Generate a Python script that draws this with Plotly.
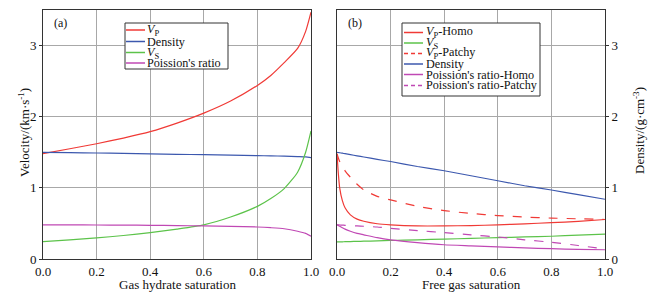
import plotly.graph_objects as go

# ---------------- data ----------------
# panel (a): gas hydrate saturation
sh = [0.0, 0.1, 0.2, 0.3, 0.4, 0.5, 0.6, 0.7, 0.8, 0.85, 0.9, 0.95, 0.98, 1.0]
vp_a = [1.48, 1.55, 1.62, 1.70, 1.79, 1.91, 2.05, 2.22, 2.44, 2.58, 2.76, 2.96, 3.20, 3.47]
dens_a = [1.50, 1.495, 1.49, 1.485, 1.478, 1.472, 1.466, 1.46, 1.453, 1.45, 1.446, 1.44, 1.436, 1.425]
vs_a = [0.245, 0.27, 0.296, 0.33, 0.37, 0.42, 0.48, 0.59, 0.74, 0.85, 0.99, 1.22, 1.50, 1.80]
pr_a = [0.48, 0.48, 0.478, 0.476, 0.474, 0.47, 0.465, 0.458, 0.45, 0.44, 0.425, 0.39, 0.36, 0.32]

# panel (b): free gas saturation
sg = [0.0, 0.005, 0.01, 0.02, 0.03, 0.05, 0.075, 0.1, 0.15, 0.2, 0.3, 0.4, 0.5, 0.6, 0.7, 0.8, 0.9, 1.0]
vp_homo = [1.48, 1.20, 1.00, 0.82, 0.72, 0.62, 0.56, 0.53, 0.495, 0.48, 0.465, 0.465, 0.47, 0.48, 0.495, 0.51, 0.53, 0.555]
vs_b = [0.24, 0.24, 0.241, 0.242, 0.243, 0.245, 0.248, 0.25, 0.255, 0.26, 0.27, 0.28, 0.29, 0.30, 0.31, 0.32, 0.335, 0.35]
vp_patchy = [1.48, 1.42, 1.37, 1.30, 1.24, 1.15, 1.05, 0.97, 0.88, 0.83, 0.74, 0.68, 0.64, 0.61, 0.59, 0.575, 0.565, 0.555]
dens_b = [1.50, 1.497, 1.493, 1.487, 1.48, 1.467, 1.45, 1.434, 1.40, 1.37, 1.30, 1.24, 1.17, 1.10, 1.03, 0.97, 0.905, 0.84]
pr_homo = [0.48, 0.47, 0.46, 0.44, 0.42, 0.39, 0.36, 0.34, 0.30, 0.27, 0.23, 0.20, 0.185, 0.17, 0.155, 0.145, 0.135, 0.13]
pr_patchy = [0.48, 0.479, 0.478, 0.476, 0.474, 0.47, 0.465, 0.46, 0.45, 0.43, 0.40, 0.37, 0.34, 0.31, 0.27, 0.235, 0.19, 0.14]

xticks = [0.0, 0.2, 0.4, 0.6, 0.8, 1.0]
xtick_text = ["0.0", "0.2", "0.4", "0.6", "0.8", "1.0"]
yticks = [0, 1, 2, 3]

x_title_a = "Gas hydrate saturation"
x_title_b = "Free gas saturation"
y_title_left = "Velocity/(km·s<sup>-1</sup>)"
y_title_right = "Density/(g·cm<sup>-3</sup>)"

RED = "#f03a36"
BLUE = "#3c58ae"
GREEN = "#5cc34a"
MAG = "#c048b4"

labels_a = ["<i>V</i><sub>P</sub>", "Density", "<i>V</i><sub>S</sub>", "Poission's ratio"]
labels_b = ["<i>V</i><sub>P</sub>-Homo", "<i>V</i><sub>S</sub>", "<i>V</i><sub>P</sub>-Patchy",
            "Density", "Poission's ratio-Homo", "Poission's ratio-Patchy"]

FONT = "Liberation Serif"
W, H = 648, 296
LEG_FS = 12.2
TXT = "#111111"

fig = go.Figure()

series_a = [(vp_a, RED, "solid"), (dens_a, BLUE, "solid"), (vs_a, GREEN, "solid"), (pr_a, MAG, "solid")]
for (ys, c, d), name in zip(series_a, labels_a):
    fig.add_trace(go.Scatter(x=sh, y=ys, mode="lines", name=name, showlegend=False,
                             line=dict(color=c, width=1.2, dash=d, shape="spline", smoothing=0.6),
                             xaxis="x", yaxis="y"))

series_b = [(vp_homo, RED, "solid"), (vs_b, GREEN, "solid"), (vp_patchy, RED, "dash"),
            (dens_b, BLUE, "solid"), (pr_homo, MAG, "solid"), (pr_patchy, MAG, "dash")]
for (ys, c, d), name in zip(series_b, labels_b):
    fig.add_trace(go.Scatter(x=sg, y=ys, mode="lines", name=name, showlegend=False,
                             line=dict(color=c, width=1.2, dash=d, shape="spline", smoothing=0.5),
                             xaxis="x2", yaxis="y2"))

def px(x):
    return x / W

def py(y):
    return 1 - y / H

shapes = []
annotations = []

def legend_box(x0, y0, x1, y1, centers, entries, lx0, lx1, tx):
    shapes.append(dict(type="rect", xref="paper", yref="paper", x0=px(x0), x1=px(x1),
                       y0=py(y1), y1=py(y0), line=dict(color="#333333", width=1),
                       fillcolor="white", layer="above"))
    for yc, (name, c, d) in zip(centers, entries):
        shapes.append(dict(type="line", xref="paper", yref="paper", x0=px(lx0), x1=px(lx1),
                           y0=py(yc), y1=py(yc), line=dict(color=c, width=1.5, dash=d),
                           layer="above"))
        annotations.append(dict(text=name, xref="paper", yref="paper", x=px(tx), y=py(yc),
                                xanchor="left", yanchor="middle", showarrow=False, borderpad=0,
                                font=dict(family=FONT, size=LEG_FS, color=TXT)))

legend_box(125, 23, 228, 69, [30, 41.5, 52.5, 63],
           [(labels_a[i], series_a[i][1], series_a[i][2]) for i in range(4)],
           126, 145, 146)
legend_box(402, 23, 540, 96, [32.5, 43, 53.5, 64, 74.5, 85.5],
           [(labels_b[i], series_b[i][1], "4px,3px" if series_b[i][2] == "dash" else "solid") for i in range(6)],
           404, 423, 425)

def note(text, x, y, size=12, angle=0, xanchor="left"):
    annotations.append(dict(text=text, xref="paper", yref="paper", x=px(x), y=py(y),
                            xanchor=xanchor, yanchor="middle", showarrow=False, textangle=angle,
                            borderpad=0, font=dict(family=FONT, size=size, color=TXT)))

note("(a)", 53, 23)
note("(b)", 347, 23)
note(x_title_a, 177, 284, size=13, xanchor="center")
note(x_title_b, 471, 284, size=13, xanchor="center")
note(y_title_left, 24, 133, size=13, angle=-90, xanchor="center")
note(y_title_right, 639, 131, size=13, angle=-90, xanchor="center")

axis_common = dict(showline=True, linecolor="#333333", linewidth=1, mirror=True,
                   showgrid=True, gridcolor="#a8a8a8", gridwidth=1, zeroline=False,
                   automargin=False,
                   tickfont=dict(family=FONT, size=13, color=TXT))

ydom = [37 / H, 1 - 10 / H]

fig.update_layout(
    width=W, height=H,
    margin=dict(l=0, r=0, t=0, b=0),
    paper_bgcolor="white", plot_bgcolor="white",
    font=dict(family=FONT, size=12, color=TXT),
    showlegend=False,
    xaxis=dict(domain=[43 / W, 311 / W], range=[0, 1], tickvals=xticks, ticktext=xtick_text,
               ticks="", anchor="y", **axis_common),
    yaxis=dict(domain=ydom, range=[0, 3.5], tickvals=yticks, ticks="outside", ticklen=3,
               tickcolor="#333333", anchor="x", **axis_common),
    xaxis2=dict(domain=[337 / W, 605 / W], range=[0, 1], tickvals=xticks, ticktext=xtick_text,
                ticks="", anchor="y2", **axis_common),
    yaxis2=dict(domain=ydom, range=[0, 3.5], tickvals=yticks, ticks="outside", ticklen=3,
                tickcolor="#333333", side="right", anchor="x2", **axis_common),
    shapes=shapes,
    annotations=annotations,
)

fig.write_html("out.html", config={"displayModeBar": False},
               post_script="document.body.style.margin='0';")
